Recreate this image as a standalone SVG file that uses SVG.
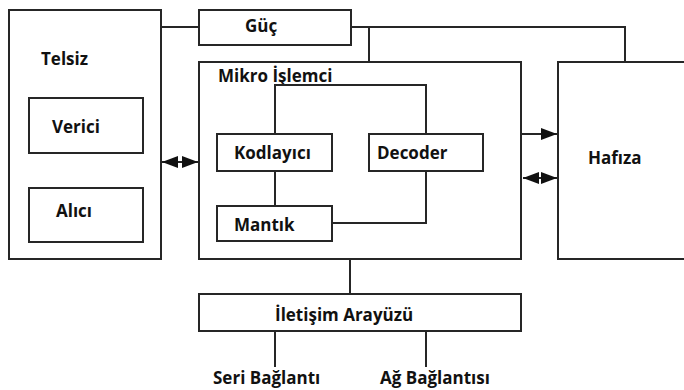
<svg xmlns="http://www.w3.org/2000/svg" width="684" height="390" viewBox="0 0 684 390">
<style>
.box{fill:#fff;stroke:#262626;stroke-width:2}
.ln{fill:none;stroke:#262626;stroke-width:2}
.t{font-family:"Open Sans","Noto Sans",sans-serif;font-weight:bold;font-size:17px;fill:#111}
</style>
<defs>
<marker id="ah" viewBox="0 0 16 12" refX="16" refY="6" markerWidth="16" markerHeight="12" markerUnits="userSpaceOnUse" orient="auto-start-reverse">
<path d="M0,0 L16,6 L0,12 z" fill="#111"/>
</marker>
</defs>
<rect width="684" height="390" fill="#fff"/>
<g id="telsiz"><rect class="box" x="9" y="10" width="152" height="249"/><text class="t" x="41" y="65">Telsiz</text></g>
<g id="verici"><rect class="box" x="29" y="98" width="114" height="55"/><text class="t" x="52" y="133">Verici</text></g>
<g id="alici"><rect class="box" x="29" y="188" width="114" height="54"/><text class="t" x="56" y="217">Alıcı</text></g>
<g id="guc"><rect class="box" x="199" y="10" width="152" height="35"/><text class="t" x="245" y="32">Güç</text></g>
<g id="mikro"><rect class="box" x="199" y="62" width="322" height="197"/><text class="t" x="218" y="82">Mikro İşlemci</text></g>
<g id="kodlayici"><rect class="box" x="217" y="134" width="115" height="37"/><text class="t" x="234" y="159">Kodlayıcı</text></g>
<g id="mantik"><rect class="box" x="217" y="206" width="115" height="35"/><text class="t" x="234" y="231">Mantık</text></g>
<g id="decoder"><rect class="box" x="369" y="134" width="114" height="37"/><text class="t" x="377" y="159">Decoder</text></g>
<g id="hafiza"><rect class="box" x="558" y="62" width="140" height="197"/><text class="t" x="588" y="164">Hafıza</text></g>
<g id="iletisim"><rect class="box" x="199" y="294" width="322" height="37"/><text class="t" x="275" y="321">İletişim Arayüzü</text></g>
<g id="seri"><text class="t" x="213" y="384">Seri Bağlantı</text></g>
<g id="ag"><text class="t" x="380" y="384">Ağ Bağlantısı</text></g>
<g id="connectors">
<path class="ln" d="M161,27 H199"/>
<path class="ln" d="M351,27 H625 V62"/>
<path class="ln" d="M369,27 V62"/>
<path class="ln" d="M275,171 V206"/>
<path class="ln" d="M275,134 V85 H426 V134"/>
<path class="ln" d="M426,171 V223 H332"/>
<path class="ln" d="M350,259 V294"/>
<path class="ln" d="M275,331 V367"/>
<path class="ln" d="M426,331 V367"/>
<line class="ln" x1="162" y1="162" x2="198" y2="162" marker-start="url(#ah)" marker-end="url(#ah)"/>
<line class="ln" x1="521" y1="134" x2="557" y2="134" marker-end="url(#ah)"/>
<line class="ln" x1="523" y1="178" x2="557" y2="178" marker-start="url(#ah)" marker-end="url(#ah)"/>
</g>
</svg>
